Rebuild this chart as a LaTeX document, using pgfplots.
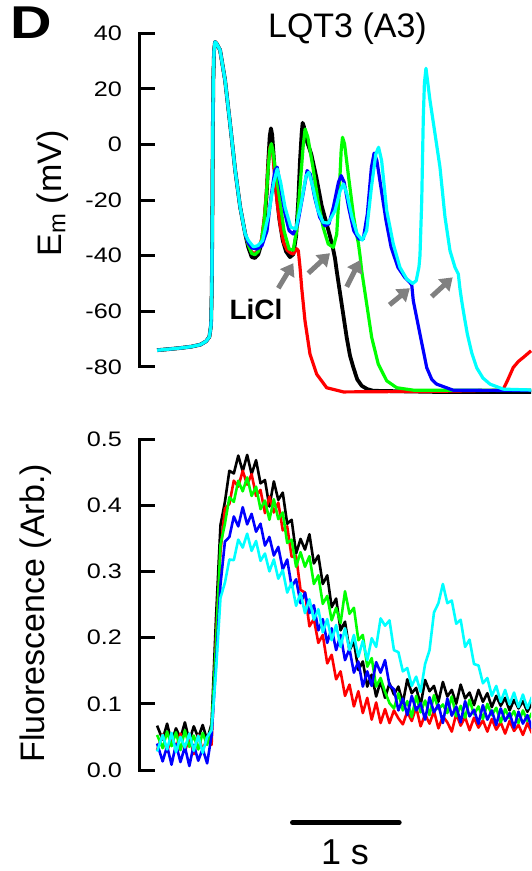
\documentclass[border=0pt]{standalone}
\usepackage{fontspec}
\setmainfont{Liberation Sans}
\newfontfamily\tickfont[FakeStretch=1.2]{Liberation Sans}
\newfontfamily\Dfont[FakeStretch=1.25]{Liberation Sans}
\usepackage{pgfplots}
\pgfplotsset{compat=1.18}
\usepackage{pgfplotstable}
\usetikzlibrary{arrows.meta}
\definecolor{cR}{RGB}{255,0,0}
\definecolor{cG}{RGB}{0,255,0}
\definecolor{cB}{RGB}{0,0,255}
\definecolor{cC}{RGB}{0,255,255}
\definecolor{cA}{RGB}{128,128,128}

\pgfplotstableread{
t K R G B C
-0.01 .067 .030 .053 .040 .028
0.04 .046 .054 .033 .013 .053
0.08 .070 .027 .058 .036 .031
0.12 .042 .052 .036 .008 .056
0.16 .063 .033 .057 .039 .027
0.20 .048 .055 .030 .012 .050
0.24 .072 .028 .060 .035 .034
0.28 .044 .050 .035 .006 .055
0.32 .066 .024 .052 .038 .029
0.36 .049 .053 .031 .014 .052
0.40 .068 .030 .056 .032 .026
0.44 .045 .048 .038 .010 .050
0.48 .070 .038 .065 .052 .060
0.52 .230 .200 .190 .160 .150
0.56 .370 .330 .340 .280 .260
0.60 .405 .395 .372 .345 .283
0.64 .452 .402 .412 .352 .318
0.68 .448 .437 .405 .383 .317
0.72 .475 .428 .437 .368 .348
0.76 .451 .452 .421 .397 .336
0.80 .476 .431 .442 .371 .357
0.84 .447 .447 .414 .387 .331
0.88 .468 .414 .428 .360 .346
0.92 .433 .423 .394 .372 .316
0.96 .438 .388 .407 .339 .327
1.00 .398 .413 .378 .352 .300
1.04 .436 .389 .409 .324 .318
1.08 .408 .404 .379 .337 .289
1.12 .419 .362 .389 .303 .302
1.16 .372 .368 .343 .318 .268
1.20 .378 .322 .348 .277 .283
1.24 .327 .323 .307 .288 .248
1.28 .349 .272 .329 .252 .267
1.32 .333 .268 .307 .268 .237
1.36 .356 .217 .323 .237 .258
1.40 .312 .228 .281 .249 .227
1.44 .324 .192 .294 .211 .243
1.48 .281 .204 .251 .228 .208
1.52 .294 .161 .263 .192 .228
1.56 .246 .174 .226 .214 .196
1.60 .259 .137 .245 .181 .219
1.64 .211 .149 .222 .204 .186
1.68 .224 .112 .270 .166 .214
1.72 .181 .129 .236 .183 .181
1.76 .194 .096 .245 .147 .204
1.80 .151 .119 .196 .164 .171
1.84 .164 .086 .204 .126 .195
1.88 .126 .109 .156 .149 .166
1.92 .144 .076 .169 .127 .199
1.96 .111 .102 .126 .163 .186
2.00 .134 .071 .139 .147 .229
2.04 .109 .092 .118 .166 .218
2.08 .131 .071 .101 .128 .226
2.12 .114 .090 .093 .122 .181
2.16 .126 .078 .116 .090 .178
2.20 .101 .069 .090 .108 .149
2.24 .137 .088 .104 .083 .154
2.28 .116 .074 .080 .112 .127
2.32 .124 .095 .112 .090 .141
2.36 .098 .066 .087 .101 .118
2.40 .136 .084 .105 .076 .160
2.44 .119 .070 .083 .110 .181
2.48 .127 .089 .113 .087 .238
2.52 .103 .063 .092 .099 .252
2.56 .133 .081 .099 .071 .281
2.60 .111 .072 .086 .108 .252
2.64 .121 .058 .111 .082 .256
2.68 .100 .085 .081 .096 .221
2.72 .129 .067 .097 .072 .227
2.76 .108 .080 .079 .104 .186
2.80 .117 .060 .106 .081 .197
2.84 .098 .079 .084 .091 .160
2.88 .121 .064 .096 .070 .158
2.92 .103 .075 .077 .098 .131
2.96 .116 .058 .100 .076 .139
3.00 .095 .077 .083 .090 .112
3.04 .112 .061 .094 .068 .127
3.08 .097 .072 .072 .093 .103
3.12 .109 .055 .092 .074 .121
3.16 .090 .074 .078 .086 .099
3.20 .106 .059 .089 .064 .117
3.24 .093 .068 .071 .088 .095
3.28 .104 .053 .090 .070 .114
3.32 .088 .071 .074 .083 .093
3.36 .101 .056 .086 .063 .110
3.40 .090 .065 .070 .080 .092
3.44 .098 .052 .083 .066 .106
}\fluor

\pgfplotsset{
  panel/.style={
    scale only axis, width=391pt,
    xmin=-0.1637, xmax=3.3525,
    axis x line=none, axis y line*=left,
    y axis line style={-, line width=3pt, line cap=rect},
    tick align=inside, major tick length=15pt,
    ytick style={line width=3pt, black},
    /pgf/number format/assume math mode=true,
    yticklabel style={font=\tickfont\fontsize{21}{21}\selectfont, inner sep=0pt, xshift=-18pt, anchor=east},
    ylabel style={font=\fontsize{34}{34}\selectfont, anchor=base, inner sep=0pt},
  },
  vtrace/.style={line join=round, line width=3.2pt},
  ftrace/.style={line join=round, line width=2.6pt},
}

\begin{document}
\begin{tikzpicture}
% ---------- top panel: membrane potential ----------
\begin{axis}[panel,
  at={(140pt,504.1pt)}, anchor=south west,
  height=333.6pt,
  ymin=-80, ymax=40, ytick={-80,-60,-40,-20,0,20,40},
  clip=false,
  ylabel={E\textsubscript{m} (mV)},
  ylabel style={at={(rel axis cs:-0.2020,0.5198)}},
]
% black
\addplot[vtrace, black, line width=3.8pt] coordinates {
(-0.01,-74.0) (0.10,-73.6) (0.20,-73.2) (0.30,-72.7) (0.38,-72.0) (0.43,-70.8) (0.46,-69.2) (0.475,-65) (0.482,-52) (0.487,-25) (0.491,5) (0.496,24) (0.502,33.5) (0.511,36.9) (0.525,36.3) (0.556,34) (0.601,23.2) (0.646,7.6) (0.692,-9.2) (0.737,-22.5) (0.782,-32.1)
(0.81,-37) (0.841,-40.5) (0.87,-40.8) (0.90,-39.5) (0.93,-35.5) (0.955,-28) (0.975,-18) (0.99,-6) (1.003,3) (1.014,5.8) (1.025,3.5) (1.04,-5) (1.06,-16) (1.09,-27) (1.12,-34.5) (1.15,-38.5) (1.185,-40.5) (1.215,-39.5) (1.24,-33) (1.26,-20) (1.275,-6) (1.29,4) (1.299,7.8) (1.31,6.5) (1.33,2) (1.376,-3.4) (1.422,-11.8) (1.47,-22) (1.514,-28.5) (1.545,-33) (1.57,-37) (1.59,-41) (1.605,-45.4) (1.650,-57.4) (1.695,-69.4) (1.725,-76) (1.755,-80.2) (1.79,-84.5) (1.83,-86.8) (1.88,-88.0) (1.934,-88.6) (2.5,-89.0) (3.353,-89.0)
};
% red
\addplot[vtrace, cR] coordinates {
(-0.01,-74.0) (0.10,-73.6) (0.20,-73.2) (0.30,-72.7) (0.38,-72.0) (0.43,-70.8) (0.46,-69.2) (0.475,-65) (0.482,-52) (0.487,-25) (0.491,5) (0.496,24) (0.502,33.5) (0.511,36.9) (0.525,36.3) (0.556,34) (0.601,23.2) (0.646,7.6) (0.692,-9.2) (0.737,-22.5) (0.782,-32.1)
(0.81,-36) (0.841,-38.8) (0.87,-39.2) (0.90,-38) (0.93,-34) (0.955,-26) (0.975,-16) (0.99,-7) (1.005,-1) (1.018,0) (1.03,-3) (1.045,-10) (1.07,-21) (1.10,-30) (1.13,-35.5) (1.16,-38) (1.19,-39) (1.215,-39.4) (1.245,-37.5) (1.26,-38.2) (1.275,-44) (1.290,-51.4) (1.320,-63.4) (1.365,-75.4) (1.425,-82.6) (1.515,-87.5) (1.665,-89.0) (2.5,-88.8) (3.05,-88.4) (3.103,-88.0) (3.14,-85) (3.193,-80.2) (3.24,-78) (3.283,-76.6) (3.353,-74.2)
};
% green
\addplot[vtrace, cG] coordinates {
(-0.01,-74.0) (0.10,-73.6) (0.20,-73.2) (0.30,-72.7) (0.38,-72.0) (0.43,-70.8) (0.46,-69.2) (0.475,-65) (0.482,-52) (0.487,-25) (0.491,5) (0.496,24) (0.502,33.5) (0.511,36.9) (0.525,36.3) (0.556,34) (0.601,23.2) (0.646,7.6) (0.692,-9.2) (0.737,-22.5) (0.782,-32.1)
(0.81,-36) (0.841,-39.2) (0.87,-39.6) (0.90,-38.5) (0.93,-34.5) (0.955,-27) (0.975,-17) (0.99,-8) (1.005,-1.5) (1.018,0.3) (1.03,-2) (1.05,-8) (1.0856,-17.8) (1.1315,-31.0) (1.1774,-37.6) (1.214,-38.0) (1.2446,-31.0) (1.2752,-15.4) (1.3028,-1.0) (1.3211,5.6) (1.3456,2.6) (1.3914,-8.2) (1.4373,-20.2) (1.4832,-29.8) (1.5291,-35.8) (1.5749,-37.0) (1.6055,-32.2) (1.630,-15.4) (1.6453,-2.2) (1.6575,2.6) (1.6759,0.2) (1.7125,-11.8) (1.7584,-26.2) (1.785,-32.5) (1.800,-35.5) (1.815,-40) (1.830,-45.4) (1.875,-57.4) (1.920,-69.4) (1.979,-79) (2.055,-85) (2.145,-87.5) (2.3,-88.4) (3.353,-88.4)
};
% blue
\addplot[vtrace, cB] coordinates {
(-0.01,-74.0) (0.10,-73.6) (0.20,-73.2) (0.30,-72.7) (0.38,-72.0) (0.43,-70.8) (0.46,-69.2) (0.475,-65) (0.482,-52) (0.487,-25) (0.491,5) (0.496,24) (0.502,33.5) (0.511,36.9) (0.525,36.3) (0.556,34) (0.601,23.2) (0.646,7.6) (0.692,-9.2) (0.737,-22.5) (0.782,-32.1)
(0.81,-35.5) (0.841,-37.2) (0.887,-37.6) (0.933,-36.4) (0.9786,-31.0) (1.0183,-17.8) (1.0489,-9.4) (1.0703,-8.2) (1.1009,-15.4) (1.1407,-25.0) (1.1774,-31.0) (1.214,-32.2) (1.2538,-28.6) (1.3028,-17.8) (1.3394,-9.4) (1.367,-10.6) (1.4067,-19.0) (1.4526,-26.2) (1.4985,-29.2) (1.5352,-28.6) (1.5749,-22.6) (1.6208,-13.6) (1.6453,-11.2) (1.6728,-13.6) (1.7125,-22.6) (1.7584,-31.0) (1.8043,-34.0) (1.844,-34.0) (1.8807,-25.0) (1.9174,-8.2) (1.9419,-3.1) (1.9664,-5.8) (2.003,-15.4) (2.0489,-27.4) (2.0948,-37.0) (2.156,-44.2) (2.2171,-47.8) (2.26,-49.5) (2.28,-50.5) (2.294,-56.2) (2.354,-68.2) (2.415,-80.3) (2.46,-84.5) (2.504,-86.2) (2.654,-88.4) (3.353,-88.5)
};
% cyan
\addplot[vtrace, cC] coordinates {
(-0.01,-74.0) (0.10,-73.6) (0.20,-73.2) (0.30,-72.7) (0.38,-72.0) (0.43,-70.8) (0.46,-69.2) (0.475,-65) (0.482,-52) (0.487,-25) (0.491,5) (0.496,24) (0.502,33.5) (0.511,36.9) (0.525,36.3) (0.556,34) (0.601,23.2) (0.646,7.6) (0.692,-9.2) (0.737,-22.5) (0.782,-32.1)
(0.81,-34.5) (0.8563,-36.8) (0.896,-36.4) (0.939,-34.6) (0.9939,-25.0) (1.0397,-13.6) (1.0703,-8.8) (1.1009,-13.6) (1.1407,-22.6) (1.1927,-29.8) (1.2385,-30.4) (1.2844,-21.4) (1.3303,-11.2) (1.3547,-10.0) (1.3914,-15.4) (1.4373,-23.8) (1.4832,-28.0) (1.5291,-28.3) (1.5902,-23.8) (1.6361,-16.6) (1.6667,-14.2) (1.6972,-17.8) (1.7431,-26.2) (1.789,-32.2) (1.8349,-34.4) (1.8746,-31.0) (1.9174,-15.4) (1.9572,-3.4) (1.9817,-1.0) (2.0092,-5.8) (2.055,-23.8) (2.114,-35.8) (2.174,-44.2) (2.235,-48.4) (2.289,-50) (2.32,-49) (2.345,-44) (2.354,-40) (2.362,-30) (2.370,-20) (2.377,-5) (2.384,9.8) (2.394,22) (2.408,27.4) (2.425,22) (2.444,15.9) (2.489,3.9) (2.534,-8.2) (2.579,-26.1) (2.624,-38.2) (2.669,-44.2) (2.699,-46.6) (2.714,-52) (2.729,-56.2) (2.755,-62.5) (2.780,-68.2) (2.82,-75) (2.864,-80.3) (2.92,-84) (2.984,-86.2) (3.103,-88.0) (3.353,-88.3)
};
% annotations
\node[anchor=base, inner sep=0pt, font=\fontsize{34}{34}\selectfont] at (axis cs:1.702,38.6) {LQT3 (A3)};
\node[anchor=base, inner sep=0pt, font=\bfseries\fontsize{28}{28}\selectfont] at (axis cs:0.879,-63.1) {LiCl};
\begin{scope}[cA, line width=5pt, -{Triangle[length=12pt,width=16pt]}]
\draw (axis cs:1.080,-51.7) -- (axis cs:1.215,-42.7);
\draw (axis cs:1.350,-46.3) -- (axis cs:1.545,-39.1);
\draw (axis cs:1.695,-51.2) -- (axis cs:1.815,-41.6);
\draw (axis cs:2.080,-57.7) -- (axis cs:2.263,-51.7);
\draw (axis cs:2.459,-54.7) -- (axis cs:2.648,-47.8);
\end{scope}
\end{axis}

% ---------- bottom panel: fluorescence ----------
\begin{axis}[panel,
  at={(140pt,101pt)}, anchor=south west,
  height=331pt,
  ymin=0, ymax=0.5, ytick={0,0.1,0.2,0.3,0.4,0.5},
  yticklabel style={/pgf/number format/.cd, fixed, fixed zerofill, precision=1},
  clip mode=individual,
  ylabel={Fluorescence (Arb.)},
  ylabel style={at={(rel axis cs:-0.2455,0.4734)}},
]
\addplot[ftrace, black] table[x=t, y=K] {\fluor};
\addplot[ftrace, cR] table[x=t, y=R] {\fluor};
\addplot[ftrace, cG] table[x=t, y=G] {\fluor};
\addplot[ftrace, cB] table[x=t, y=B] {\fluor};
\addplot[ftrace, cC] table[x=t, y=C] {\fluor};
% 1 s scale bar
\draw[line width=5pt, line cap=round] (axis cs:1.208,-0.0795) -- (axis cs:2.167,-0.0795);
\node[anchor=base, inner sep=0pt, font=\fontsize{36}{36}\selectfont] at (axis cs:1.680,-0.1435) {1 s};
\end{axis}

\node[anchor=base west, inner sep=0pt, font=\Dfont\bfseries\fontsize{46}{46}\selectfont] at (10pt,832pt) {D};

\pgfresetboundingbox
\path[use as bounding box] (0,0) rectangle (531pt,871pt);
\end{tikzpicture}
\end{document}
